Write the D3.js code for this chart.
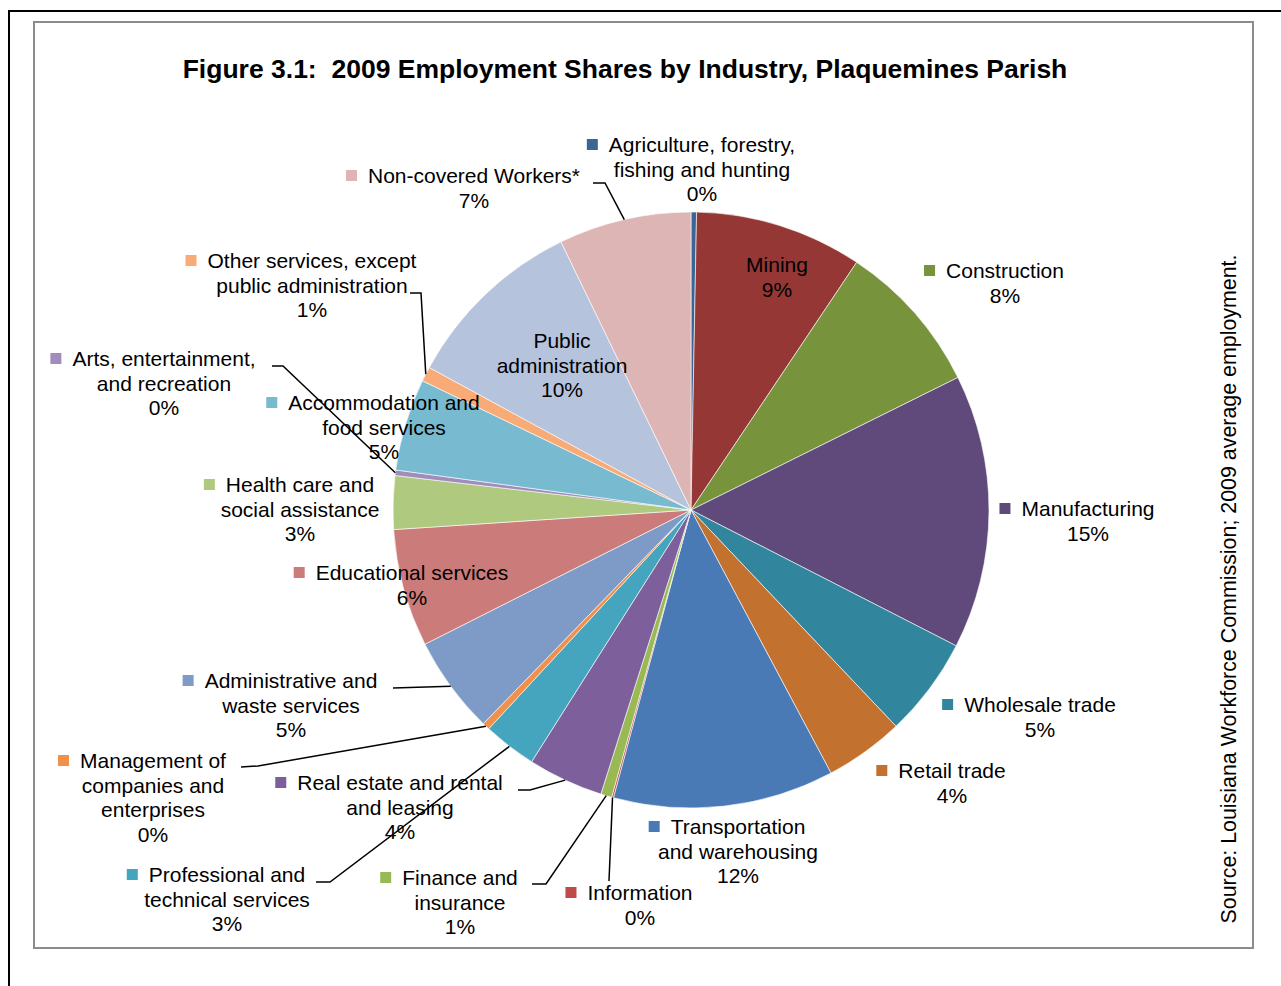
<!DOCTYPE html>
<html>
<head>
<meta charset="utf-8">
<script src="https://cdn.jsdelivr.net/npm/d3@7"></script>
<style>
  body { margin: 0; background: #fff; }
  text { font-family: "Liberation Sans", Arial, sans-serif; fill: #000; }
</style>
</head>
<body>
<div id="chart"></div>
<script>
// Chart data
//=====================================================================
var industries = [
    "Agriculture, forestry,|fishing and hunting",
    "Mining",
    "Construction",
    "Manufacturing",
    "Wholesale trade",
    "Retail trade",
    "Transportation|and warehousing",
    "Information",
    "Finance and|insurance",
    "Real estate and rental|and leasing",
    "Professional and|technical services",
    "Management of|companies and|enterprises",
    "Administrative and|waste services",
    "Educational services",
    "Health care and|social assistance",
    "Arts, entertainment,|and recreation",
    "Accommodation and|food services",
    "Other services, except|public administration",
    "Public|administration",
    "Non-covered Workers*"
];

var shares = [0.3, 9.1, 8.3, 14.9, 5.4, 4.3, 12.0, 0.1, 0.6, 4.1,
              2.9, 0.4, 5.3, 6.4, 2.9, 0.3, 5.0, 0.8, 9.9, 7.2];

var colors = ["#3C6597", "#953735", "#77933C", "#604A7B", "#31859C", "#C3712F",
              "#4A7AB5", "#BE4B48", "#98B954", "#7D5F9C", "#46A5BE", "#F0904A",
              "#7E9BC8", "#CB7B79", "#AFC97F", "#A08DBB", "#78BACF", "#F9AB77",
              "#B6C3DD", "#DDB5B4"];

// Label layout: text centre x, first baseline y, marker shown, leader elbows
var labelLayout = [
    {x: 702, y: 152, marker: true, leader: null},
    {x: 777, y: 272, marker: false, leader: null},
    {x: 1005, y: 278, marker: true, leader: null},
    {x: 1088, y: 516, marker: true, leader: null},
    {x: 1040, y: 712, marker: true, leader: null},
    {x: 952, y: 778, marker: true, leader: null},
    {x: 738, y: 834, marker: true, leader: null},
    {x: 640, y: 900, marker: true, leader: [[609, 881]]},
    {x: 460, y: 885, marker: true, leader: [[546, 884], [532, 884]]},
    {x: 400, y: 790, marker: true, leader: [[530, 790], [518, 790]]},
    {x: 227, y: 882, marker: true, leader: [[330, 882], [316, 882]]},
    {x: 153, y: 768, marker: true, leader: [[258, 766], [241, 767]]},
    {x: 291, y: 688, marker: true, leader: [[393, 688]]},
    {x: 412, y: 580, marker: true, leader: null},
    {x: 300, y: 492, marker: true, leader: null},
    {x: 164, y: 366, marker: true, leader: [[283, 366], [272, 366]]},
    {x: 384, y: 410, marker: true, leader: null},
    {x: 312, y: 268, marker: true, leader: [[421, 293], [410, 293]]},
    {x: 562, y: 348, marker: false, leader: null},
    {x: 474, y: 183, marker: true, leader: [[605, 183], [593, 183]]}
];

var svgWidth = 1281;
var svgHeight = 986;
var cx = 691, cy = 510, radius = 298;
var lineH = 24.5;

var svg = d3.select("#chart")
    .append("svg")
    .attr("width", svgWidth)
    .attr("height", svgHeight);

// Frames
svg.append("path")
    .attr("d", "M9,986 L9,11 L1281,11")
    .attr("fill", "none")
    .attr("stroke", "#000")
    .attr("stroke-width", 2);

svg.append("rect")
    .attr("x", 34).attr("y", 22)
    .attr("width", 1219).attr("height", 926)
    .attr("fill", "#fff")
    .attr("stroke", "#8c8c8c")
    .attr("stroke-width", 2);

// Title
svg.append("text")
    .attr("x", 625)
    .attr("y", 78)
    .attr("text-anchor", "middle")
    .style("font-size", "26.5px")
    .style("font-weight", "bold")
    .style("white-space", "pre")
    .text("Figure 3.1:  2009 Employment Shares by Industry, Plaquemines Parish");

// Source note
svg.append("text")
    .attr("transform", "translate(1236, 589) rotate(-90)")
    .attr("text-anchor", "middle")
    .style("font-size", "21.4px")
    .text("Source: Louisiana Workforce Commission; 2009 average employment.");

// Pie
var total = d3.sum(shares);
var pie = d3.pie().sort(null).value(d => d);
var arcs = pie(shares);

var arc = d3.arc().innerRadius(0).outerRadius(radius);
var edgeArc = d3.arc().innerRadius(radius).outerRadius(radius);

var pieGroup = svg.append("g")
    .attr("transform", `translate(${cx}, ${cy})`);

pieGroup.selectAll("path")
    .data(arcs)
    .enter()
    .append("path")
    .attr("d", arc)
    .attr("fill", (d, i) => colors[i])
    .attr("stroke", "#fff")
    .attr("stroke-width", 0.6);

// Leader lines
arcs.forEach(function (d, i) {
    var lay = labelLayout[i];
    if (!lay.leader) return;
    var start = edgeArc.centroid(d);
    var pts = [[cx + start[0], cy + start[1]]].concat(lay.leader);
    svg.append("path")
        .attr("d", d3.line()(pts))
        .attr("fill", "none")
        .attr("stroke", "#000")
        .attr("stroke-width", 1.5);
});

// Labels
var labelGroup = svg.append("g");
industries.forEach(function (name, i) {
    var lay = labelLayout[i];
    var lines = name.split("|");
    lines.push(Math.round(shares[i] / total * 100) + "%");
    var g = labelGroup.append("g");
    var first = null;
    lines.forEach(function (ln, k) {
        var t = g.append("text")
            .attr("x", lay.x)
            .attr("y", lay.y + k * lineH)
            .attr("text-anchor", "middle")
            .style("font-size", "21px")
            .text(ln);
        if (k === 0) first = t;
    });
    if (lay.marker) {
        var w = first.node().getComputedTextLength();
        g.append("rect")
            .attr("x", lay.x - w / 2 - 22)
            .attr("y", lay.y - 13)
            .attr("width", 11)
            .attr("height", 11)
            .attr("fill", colors[i]);
    }
});
</script>
</body>
</html>
